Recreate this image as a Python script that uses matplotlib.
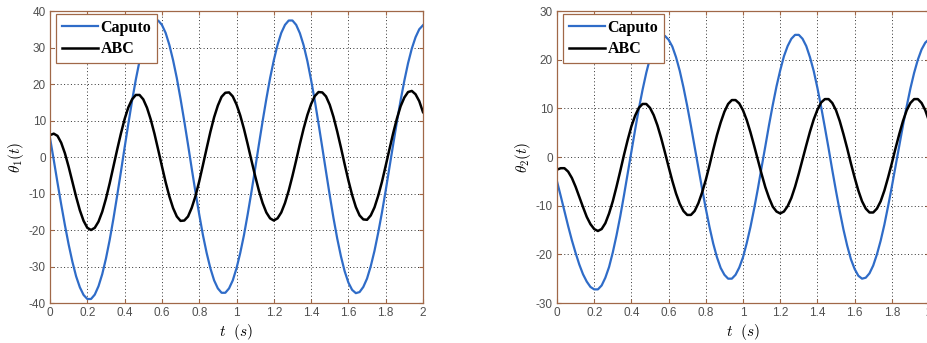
import numpy as np
import matplotlib
matplotlib.use('Agg')
import matplotlib.pyplot as plt
from matplotlib.ticker import FormatStrFormatter

# time samples every 0.02 s
time_s = np.round(np.arange(101) * 0.02, 2)

theta1_caputo = [5.2, -0.8, -7.0, -13.0, -18.7, -24.0, -28.7, -32.7, -35.7, -37.8,
                 -38.9, -38.9, -37.7, -35.4, -32.1, -27.8, -22.7, -16.9, -10.6, -4.1,
                 2.6, 9.1, 15.4, 21.2, 26.3, 30.6, 33.9, 36.2, 37.4, 37.4,
                 36.2, 34.0, 30.7, 26.5, 21.6, 15.9, 9.8, 3.4, -3.2, -9.6,
                 -15.7, -21.4, -26.3, -30.5, -33.8, -36.0, -37.2, -37.2, -36.0, -33.8,
                 -30.5, -26.3, -21.4, -15.7, -9.6, -3.2, 3.4, 9.8, 15.9, 21.6,
                 26.5, 30.7, 34.0, 36.2, 37.4, 37.4, 36.2, 33.9, 30.6, 26.3,
                 21.1, 15.4, 9.1, 2.6, -4.0, -10.5, -16.7, -22.3, -27.2, -31.3,
                 -34.4, -36.4, -37.3, -37.0, -35.6, -33.3, -29.9, -25.7, -20.7, -15.2,
                 -9.2, -2.9, 3.4, 9.6, 15.5, 20.9, 25.7, 29.7, 32.8, 35.0, 36.1]

theta1_abc = [6.0, 6.4, 5.8, 3.9, 1.0, -2.7, -6.8, -10.9, -14.6, -17.5,
              -19.4, -20.0, -19.4, -17.7, -15.0, -11.4, -7.2, -2.6, 2.0, 6.4,
              10.4, 13.6, 15.8, 17.0, 17.0, 15.8, 13.5, 10.3, 6.4, 2.0,
              -2.5, -6.9, -10.8, -14.0, -16.3, -17.5, -17.4, -16.3, -13.9, -10.7,
              -6.7, -2.2, 2.4, 6.9, 10.9, 14.1, 16.5, 17.6, 17.7, 16.6,
              14.4, 11.4, 7.7, 3.5, -0.9, -5.2, -9.2, -12.6, -15.2, -16.8,
              -17.4, -16.8, -15.2, -12.6, -9.2, -5.2, -0.9, 3.6, 7.8, 11.5,
              14.5, 16.7, 17.8, 17.7, 16.6, 14.3, 11.0, 7.0, 2.6, -2.0,
              -6.4, -10.4, -13.7, -16.0, -17.1, -17.2, -16.0, -13.8, -10.6, -6.8,
              -2.4, 2.1, 6.5, 10.5, 13.9, 16.3, 17.8, 18.1, 17.2, 15.3, 12.3]

theta2_caputo = [-5.0, -8.0, -11.1, -14.2, -17.1, -19.7, -22.1, -24.1, -25.6, -26.7,
                 -27.2, -27.2, -26.4, -24.8, -22.6, -19.6, -16.1, -12.2, -7.9, -3.4,
                 1.1, 5.6, 9.9, 13.8, 17.3, 20.3, 22.5, 24.1, 24.9, 24.9,
                 24.1, 22.7, 20.5, 17.7, 14.3, 10.5, 6.4, 2.1, -2.2, -6.5,
                 -10.6, -14.4, -17.8, -20.6, -22.8, -24.2, -25.0, -25.0, -24.2, -22.7,
                 -20.6, -17.7, -14.4, -10.6, -6.5, -2.1, 2.2, 6.6, 10.7, 14.5,
                 17.8, 20.7, 22.8, 24.3, 25.1, 25.1, 24.3, 22.8, 20.5, 17.7,
                 14.2, 10.3, 6.1, 1.8, -2.7, -7.0, -11.1, -14.9, -18.2, -21.0,
                 -23.0, -24.4, -25.0, -24.8, -23.9, -22.3, -20.0, -17.2, -13.9, -10.1,
                 -6.1, -1.9, 2.3, 6.5, 10.4, 14.1, 17.3, 20.0, 22.1, 23.5, 24.2]

theta2_abc = [-2.6, -2.3, -2.3, -3.0, -4.3, -6.1, -8.2, -10.3, -12.3, -13.8,
              -14.8, -15.2, -14.8, -13.6, -11.6, -9.1, -6.1, -2.9, 0.4, 3.5,
              6.3, 8.5, 10.1, 10.9, 10.9, 10.1, 8.6, 6.5, 3.9, 1.0,
              -2.0, -4.9, -7.5, -9.6, -11.1, -11.9, -11.9, -11.1, -9.5, -7.3,
              -4.7, -1.7, 1.5, 4.5, 7.1, 9.3, 10.9, 11.7, 11.7, 11.0,
              9.6, 7.6, 5.1, 2.3, -0.6, -3.5, -6.2, -8.4, -10.2, -11.2,
              -11.6, -11.2, -10.1, -8.4, -6.1, -3.4, -0.5, 2.4, 5.2, 7.7,
              9.7, 11.2, 11.9, 11.9, 11.1, 9.6, 7.4, 4.7, 1.8, -1.3,
              -4.2, -6.9, -9.1, -10.6, -11.4, -11.4, -10.6, -9.1, -6.9, -4.2,
              -1.3, 1.8, 4.7, 7.4, 9.6, 11.1, 11.9, 11.9, 11.1, 9.6, 7.4]

plt.rcParams['axes.unicode_minus'] = False
plt.rcParams['mathtext.fontset'] = 'cm'
EDGE = '#a06848'
BLUE = '#2f6cc8'


def draw_panel(ax, caputo, abc, lim, ylabel):
    ax.plot(time_s, caputo, color=BLUE, lw=1.6, label='Caputo')
    ax.plot(time_s, abc, color='black', lw=1.8, label='ABC')
    ax.set_xlim(0, 2)
    ax.set_ylim(-lim, lim)
    ax.set_xticks(np.arange(0, 2.01, 0.2))
    ax.set_yticks(np.arange(-lim, lim + 1, 10))
    ax.xaxis.set_major_formatter(FormatStrFormatter('%g'))
    ax.grid(True, color='#303030', linestyle=(0, (1, 2.5)), linewidth=0.7)
    ax.tick_params(direction='in', top=True, right=True, length=3, color=EDGE,
                   labelsize=8.5, labelcolor='#505050', pad=3)
    for lbl in ax.get_xticklabels() + ax.get_yticklabels():
        lbl.set_family('Liberation Sans')
    for s in ax.spines.values():
        s.set_color(EDGE)
        s.set_linewidth(0.9)
    ax.set_xlabel(r'$t\ \ (s)$', fontsize=11, labelpad=2)
    ax.set_ylabel(ylabel, fontsize=11, labelpad=2)
    leg = ax.legend(loc='upper left', bbox_to_anchor=(0.016, 0.99), fancybox=False,
                    framealpha=1, edgecolor=EDGE, handlelength=2.3, handletextpad=0.15,
                    borderpad=0.35, labelspacing=0.35, borderaxespad=0,
                    prop={'family': 'Liberation Serif', 'weight': 'bold', 'size': 11.5})
    leg.get_frame().set_linewidth(0.9)


if __name__ == "__main__":
    fig = plt.figure(figsize=(9.28, 3.43), dpi=100)
    ax1 = fig.add_axes([0.0539, 0.1166, 0.4019, 0.8513])
    ax2 = fig.add_axes([0.6002, 0.1166, 0.4009, 0.8513])

    draw_panel(ax1, theta1_caputo, theta1_abc, 40, r'$\theta_1(t)$')
    draw_panel(ax2, theta2_caputo, theta2_abc, 30, r'$\theta_2(t)$')

    fig.savefig('out.png', dpi=100)
